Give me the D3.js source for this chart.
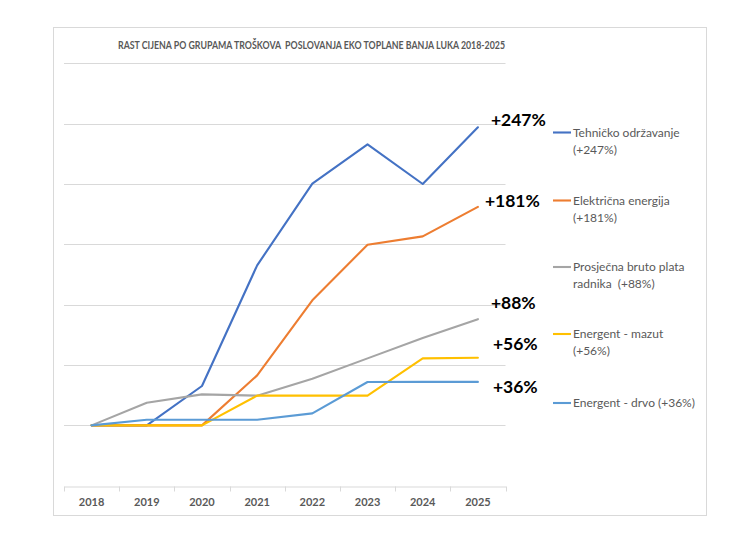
<!DOCTYPE html>
<html><head><meta charset="utf-8">
<script src="https://cdn.jsdelivr.net/npm/d3@7"></script>
<style>
html,body{margin:0;padding:0;background:#fff;}
svg{display:block;}
text{font-family:Lato,"Open Sans",sans-serif;white-space:pre;}
</style></head>
<body>
<svg id="c" width="750" height="543"></svg>
<script>
const years = ["2018","2019","2020","2021","2022","2023","2024","2025"];
const tehnicko   = [0, 0, 32.6, 132.6, 200.3, 232.8, 200, 247];
const elektricna = [0, 0, 0, 41.4, 103.6, 149.7, 156.6, 181];
const plata      = [0, 18.8, 25.7, 24.6, 38.7, 55.5, 72.4, 88];
const mazut      = [0, 0, 0, 24.6, 24.6, 24.6, 55.5, 56];
const drvo       = [0, 4.7, 4.7, 4.7, 9.9, 35.9, 36, 36];
const yTicks = [-50, 0, 50, 100, 150, 200, 250, 300];
const endLabels = ["+247%", "+181%", "+88%", "+56%", "+36%"];
const legendLabels = [
  ["Tehničko održavanje", "(+247%)"],
  ["Električna energija", "(+181%)"],
  ["Prosječna bruto plata", "radnika  (+88%)"],
  ["Energent - mazut", "(+56%)"],
  ["Energent - drvo (+36%)"]
];
const title = "RAST CIJENA PO GRUPAMA TROŠKOVA  POSLOVANJA EKO TOPLANE BANJA LUKA 2018-2025";

const series = [tehnicko, elektricna, plata, mazut, drvo];
const colors = ["#4472c4", "#ed7d31", "#a5a5a5", "#ffc000", "#5b9bd5"];
// label placement (style): dx from last point, dy from last point
const labelPos = [[13, -7], [7, -6], [13, -16], [15, -14], [15, 5]];
const legendY = [132.5, 200.5, 267, 334, 403];

const svg = d3.select("#c");
svg.append("rect").attr("x", 53.5).attr("y", 27.5).attr("width", 653).attr("height", 488)
  .attr("fill", "#fff").attr("stroke", "#d9d9d9").attr("stroke-width", 1);

const x = d3.scaleBand().domain(years).range([64, 505.5]).padding(0);
const y = d3.scaleLinear().domain([-50, 300]).range([485.7, 63.3]);

// title
svg.append("text").attr("x", 311.5).attr("y", 49.3).attr("text-anchor", "middle")
  .attr("xml:space", "preserve")
  .attr("font-size", 11.6).attr("font-weight", "bold").attr("fill", "#595959")
  .attr("textLength", 387).attr("lengthAdjust", "spacingAndGlyphs").text(title);

// gridlines
svg.append("g").selectAll("line").data(yTicks.filter(d => d !== -50)).join("line")
  .attr("x1", 64).attr("x2", 505.5)
  .attr("y1", d => Math.round(y(d)) + 0.5).attr("y2", d => Math.round(y(d)) + 0.5)
  .attr("stroke", "#d9d9d9").attr("stroke-width", 1);

// x axis
const xAxis = d3.axisBottom(x).tickSize(0).tickPadding(10);
const ga = svg.append("g").attr("transform", `translate(0,${Math.round(y(-50)) + 0.5})`).call(xAxis);
ga.select(".domain").attr("stroke", "#d9d9d9");
ga.selectAll("text").attr("font-size", 11).attr("font-weight", "bold").attr("fill", "#595959")
  .attr("font-family", "Lato, sans-serif").attr("dy", "0.9em");
// tick marks at band boundaries
const bounds = years.map(d => x(d)).concat([x(years[years.length - 1]) + x.bandwidth()]);
ga.selectAll(".bt").data(bounds).join("line").attr("class", "bt")
  .attr("x1", d => Math.round(d) + 0.5).attr("x2", d => Math.round(d) + 0.5)
  .attr("y1", 0).attr("y2", 5).attr("stroke", "#d9d9d9");

// lines
const line = d3.line().x((d, i) => x(years[i]) + x.bandwidth() / 2).y(d => y(d));
svg.append("g").selectAll("path").data(series).join("path")
  .attr("d", d => line(d)).attr("fill", "none")
  .attr("stroke", (d, i) => colors[i]).attr("stroke-width", 2.1)
  .attr("stroke-linejoin", "round").attr("stroke-linecap", "round");

// end labels
const lastX = x(years[years.length - 1]) + x.bandwidth() / 2;
svg.append("g").selectAll("text").data(series).join("text")
  .attr("x", (d, i) => lastX + labelPos[i][0])
  .attr("y", (d, i) => y(d[d.length - 1]) + labelPos[i][1])
  .attr("dy", "0.35em")
  .attr("font-size", 17.5).attr("font-weight", "bold").attr("fill", "#000")
  .text((d, i) => endLabels[i]);

// legend
const lg = svg.append("g");
legendLabels.forEach((lines, i) => {
  const yy = legendY[i];
  lg.append("line").attr("x1", 553).attr("x2", 571).attr("y1", yy).attr("y2", yy)
    .attr("stroke", colors[i]).attr("stroke-width", 2.1);
  const t = lg.append("text").attr("x", 573).attr("y", yy)
    .attr("xml:space", "preserve")
    .attr("font-size", 12).attr("fill", "#595959");
  lines.forEach((s, j) => {
    t.append("tspan").attr("x", 573).attr("dy", j === 0 ? "0.35em" : 17).text(s);
  });
});
</script>
</body></html>
